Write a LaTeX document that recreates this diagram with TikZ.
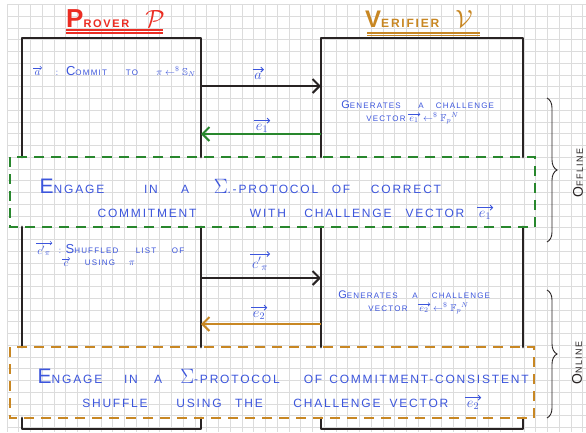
\documentclass[tikz,border=0pt]{standalone}
\usepackage{amsmath,amssymb}
\usepackage{fontspec}
\setmainfont{Liberation Sans}
\newfontfamily\hand[LetterSpace=15]{Liberation Sans}
\usetikzlibrary{arrows.meta,decorations.pathreplacing}
\definecolor{pen}{RGB}{60,85,220}
\definecolor{grn}{RGB}{40,135,45}
\definecolor{org}{RGB}{200,135,35}
\definecolor{redt}{RGB}{235,45,35}
\definecolor{gridc}{RGB}{220,220,220}
\definecolor{ink}{RGB}{40,35,35}
\newcommand{\capfirst}[2][20]{{\fontsize{#1}{#1}\selectfont #2}}
\newcommand{\sampled}{\leftarrow^{\$}}
\tikzset{
  gridl/.style={draw=gridc,line width=0.6pt},
  boxl/.style={draw=ink,line width=2.8pt,line cap=round,line join=round},
  msg/.style={line width=2pt,-{Straight Barb[length=7pt,width=14pt,line width=2pt]}},
  dboxl/.style={line width=2.4pt,dash pattern=on 10pt off 7pt},
  wordn/.style={anchor=base,inner sep=0pt,text=pen,font=\hand\fontsize{12}{12}\selectfont},
  smw/.style={anchor=base,inner sep=0pt,text=pen,font=\hand\fontsize{8}{8}\selectfont},
  lbl/.style={anchor=base,inner sep=0pt,text=pen,font=\fontsize{14}{14}\selectfont},
  mlbl/.style={anchor=base,inner sep=0pt,text=pen,font=\fontsize{11}{11}\selectfont},
  vecbig/.style={draw=pen,line width=0.9pt,-{Straight Barb[length=2.5pt,width=5pt,line width=0.9pt]},shorten <=-1.5pt,shorten >=-2pt},
  vecsm/.style={draw=pen,line width=0.6pt,-{Straight Barb[length=1.8pt,width=3.6pt,line width=0.6pt]},shorten <=-1pt,shorten >=-1.5pt},
  bracel/.style={draw=ink,line width=0.9pt,decorate,decoration={brace,amplitude=10pt}},
  sidel/.style={rotate=90,inner sep=0pt,text=ink,font=\hand\fontsize{9}{9}\selectfont}
}
\begin{document}
\begin{tikzpicture}[x=1pt,y=-1pt]
\useasboundingbox (0,0) rectangle (586,432);
\fill[white] (0,0) rectangle (586,432);
\foreach \i in {0,...,49} \draw[gridl] ({7+\i*11.75},4.5) -- ({7+\i*11.75},432);
\foreach \j in {0,...,36} \draw[gridl] (7,{4.5+\j*11.75}) -- (586,{4.5+\j*11.75});

% titles
\node[anchor=base west,inner sep=0pt,text=redt,font=\hand\bfseries\fontsize{11}{11}\selectfont] (ptitle) at (66,27) {\capfirst[26]{P}ROVER\hspace{16pt}\capfirst[24]{$\mathcal{P}$}};
\draw[redt,line width=1.4pt] (66,30) -- (163,30);
\draw[redt,line width=1.4pt] (66,32.8) -- (163,32.8);
\node[anchor=base west,inner sep=0pt,text=org,font=\hand\bfseries\fontsize{12}{12}\selectfont] (vtitle) at (365,27) {\capfirst[24]{V}ERIFIER\hspace{16pt}\capfirst[24]{$\mathcal{V}$}};
\draw[org,line width=1.4pt] (367,33) -- (480,33);
\draw[org,line width=1.4pt] (367,35.6) -- (480,35.6);

% prover and verifier boxes
\draw[boxl] (22,157) -- (22,38) -- (201,38) -- (201,157);
\draw[boxl] (22,227) -- (22,347);
\draw[boxl] (201,227) -- (201,347);
\draw[boxl] (22,418) -- (22,429) -- (201,429) -- (201,418);
\draw[boxl] (321,157) -- (321,38) -- (523,38) -- (523,157);
\draw[boxl] (321,227) -- (321,347);
\draw[boxl] (523,227) -- (523,347);
\draw[boxl] (321,418) -- (321,429) -- (523,429) -- (523,418);

% dashed protocol boxes
\draw[dboxl,grn] (10,157) rectangle (535,227);
\draw[dboxl,org] (10,347) rectangle (534,418);

% messages
\coordinate (pA) at (201,86);  \coordinate (vA) at (321,86);
\coordinate (vE1) at (321,134); \coordinate (pE1) at (201,134);
\coordinate (pC) at (201,278); \coordinate (vC) at (321,278);
\coordinate (vE2) at (321,324); \coordinate (pE2) at (201,324);
\draw[msg,ink] (pA) -- (vA);
\draw[msg,grn] (vE1) -- (pE1);
\draw[msg,ink] (pC) -- (vC);
\draw[msg,org] (vE2) -- (pE2);
\node[lbl] (la) at (258,79) {$a$};
\node[lbl] (le1) at (262,130) {$e_1$};
\node[lbl] (lc) at (260,268) {$c'{}_{\pi}$};
\node[lbl] (le2) at (259,317) {$e_2$};
\foreach \n in {la,le1,lc,le2}
  \draw[vecbig] ([yshift=3pt]\n.north west) -- ([yshift=3pt]\n.north east);

% prover text 1
\node[mlbl] (p1a) at (37.5,75) {$a$};
\node[smw] (p1b) at (57,75) {:};
\node[smw] (p1c) at (86.5,75) {\capfirst[13]{C}OMMIT};
\node[smw] (p1d) at (132,75) {TO};
\node[smw] (p1e) at (176,75) {\capfirst[10]{$\pi\sampled\mathbb{S}_N$}};

% verifier text 1
\node[smw] (v1a) at (371,108) {\capfirst[11]{G}ENERATES};
\node[smw] (v1b) at (421,108) {A};
\node[smw] (v1c) at (465,108) {CHALLENGE};
\node[smw] (v1d) at (386,121) {VECTOR};
\node[mlbl] (v1e) at (414,121) {\capfirst[10]{$e_1$}};
\node[smw] (v1f) at (441,121) {\capfirst[10]{$\sampled\mathbb{F}_p{}^N$}};

% green protocol text
\node[wordn] (g1) at (72,193) {\capfirst[21]{E}NGAGE};
\node[wordn] (g2) at (151,193) {IN};
\node[wordn] (g3) at (185,193) {A};
\node[wordn] (g4) at (266,193) {\capfirst[21]{$\Sigma$}.-PROTOCOL};
\node[wordn] (g5) at (341,193) {OF};
\node[wordn] (g6) at (406,193) {CORRECT};
\node[wordn] (g7) at (147,217) {COMMITMENT};
\node[wordn] (g8) at (268,217) {WITH};
\node[wordn] (g9) at (348,217) {CHALLENGE};
\node[wordn] (g10) at (435,217) {VECTOR};
\node[lbl] (g11) at (485,217) {$e_1$};

% prover text 2
\node[mlbl] (p2a) at (44,254) {$c'{}_{\pi}$};
\node[smw] (p2b) at (60,253) {:};
\node[smw] (p2c) at (92,253) {\capfirst[13]{S}HUFFLED};
\node[smw] (p2d) at (146,253) {LIST};
\node[smw] (p2e) at (178,253) {OF};
\node[mlbl] (p2f) at (66,266) {$c$};
\node[smw] (p2g) at (100,265) {USING};
\node[smw] (p2h) at (132,265) {\capfirst[10]{$\pi$}};

% verifier text 2
\node[smw] (v2a) at (368,298) {\capfirst[11]{G}ENERATES};
\node[smw] (v2b) at (415,298) {A};
\node[smw] (v2c) at (461,298) {CHALLENGE};
\node[smw] (v2d) at (388,311) {VECTOR};
\node[mlbl] (v2e) at (424,311) {\capfirst[10]{$e_2$}};
\node[smw] (v2f) at (451,311) {\capfirst[10]{$\sampled\mathbb{F}_p{}^N$}};

% orange protocol text
\node[wordn] (o1) at (70,383) {\capfirst[21]{E}NGAGE};
\node[wordn] (o2) at (131,383) {IN};
\node[wordn] (o3) at (158,383) {A};
\node[wordn] (o4) at (230,383) {\capfirst[21]{$\Sigma$}-PROTOCOL};
\node[wordn] (o5) at (313,383) {OF};
\node[wordn] (o6) at (429,383) {COMMITMENT-CONSISTENT};
\node[wordn] (o7) at (115,407) {SHUFFLE};
\node[wordn] (o8) at (199,407) {USING};
\node[wordn] (o9) at (249,407) {THE};
\node[wordn] (o10) at (337,407) {CHALLENGE};
\node[wordn] (o11) at (419,407) {VECTOR};
\node[lbl] (o12) at (473,407) {$e_2$};
\foreach \n in {g11,o12}
  \draw[vecbig] ([yshift=3pt]\n.north west) -- ([yshift=3pt]\n.north east);
\foreach \n in {p1a,v1e,p2a,p2f,v2e}
  \draw[vecsm] ([yshift=2.2pt]\n.north west) -- ([yshift=2.2pt]\n.north east);

% phases
\draw[bracel] (547,98) -- (547,242);
\draw[bracel] (547,290) -- (547,418);
\node[sidel] (off) at (578,173) {\capfirst[14]{O}FFLINE};
\node[sidel] (on) at (577,363) {\capfirst[14]{O}NLINE};
\end{tikzpicture}
\end{document}
